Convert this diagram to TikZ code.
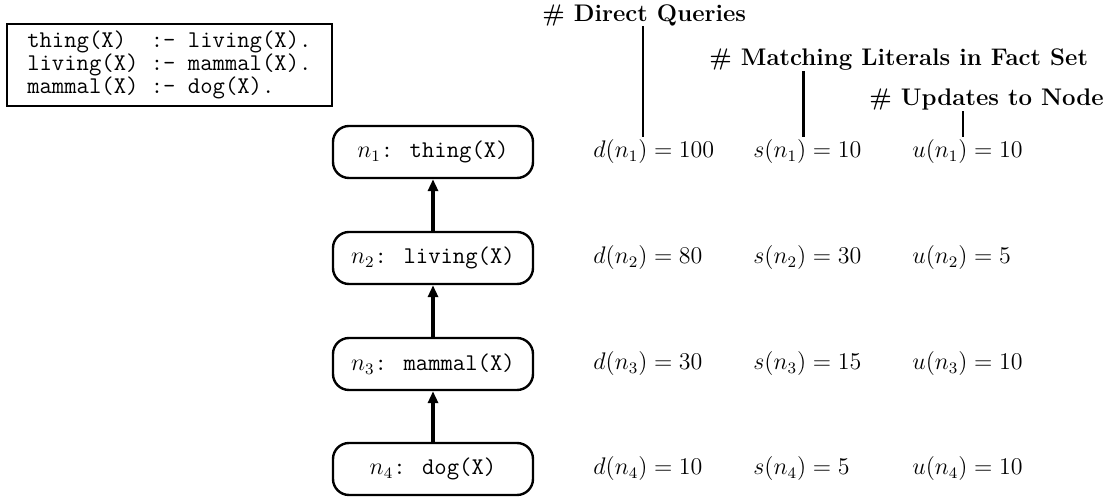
\documentclass[tikz,border=0pt]{standalone}
\usetikzlibrary{arrows.meta}
\begin{document}
\begin{tikzpicture}[x=0.5pt,y=-0.5pt,
  every node/.style={font=\fontsize{12}{14}\selectfont},
  nodebox/.style={draw,line width=1.2pt,rounded corners=8pt,minimum width=100pt,minimum height=26pt,inner sep=0pt},
  dep/.style={line width=2pt,-{Triangle[length=6pt,width=5pt]}},
  val/.style={anchor=west,inner sep=0pt},
  hdr/.style={anchor=west,inner sep=0pt,font=\fontsize{12}{14}\selectfont\bfseries},
  pointer/.style={line width=1pt},
  rulebox/.style={draw,line width=0.9pt,anchor=north west,align=left,inner xsep=0pt,inner ysep=3.5pt,minimum width=162.5pt,font=\fontsize{12}{11.5}\selectfont\ttfamily}
]
\useasboundingbox (0,0) rectangle (1116,501);

% rule box
\node[rulebox] (rules) at (6,23) {thing(X)\ \ :- living(X).\\living(X) :- mammal(X).\\mammal(X) :- dog(X).};

% dependency nodes
\node[nodebox] (n1) at (433,152) {$n_1$\texttt{: thing(X)}};
\node[nodebox] (n2) at (433,258) {$n_2$\texttt{: living(X)}};
\node[nodebox] (n3) at (433,364) {$n_3$\texttt{: mammal(X)}};
\node[nodebox] (n4) at (433,469) {$n_4$\texttt{: dog(X)}};
\draw[dep] (n2) -- (n1);
\draw[dep] (n3) -- (n2);
\draw[dep] (n4) -- (n3);

% values
\node[val] (d1) at (593,152) {$d(n_1) = 100$};
\node[val] (s1) at (753,152) {$s(n_1) = 10$};
\node[val] (u1) at (912,152) {$u(n_1) = 10$};
\node[val] (d2) at (593,258) {$d(n_2) = 80$};
\node[val] (s2) at (753,258) {$s(n_2) = 30$};
\node[val] (u2) at (912,258) {$u(n_2) = 5$};
\node[val] (d3) at (593,364) {$d(n_3) = 30$};
\node[val] (s3) at (753,364) {$s(n_3) = 15$};
\node[val] (u3) at (912,364) {$u(n_3) = 10$};
\node[val] (d4) at (593,469) {$d(n_4) = 10$};
\node[val] (s4) at (753,469) {$s(n_4) = 5$};
\node[val] (u4) at (912,469) {$u(n_4) = 10$};

% headers
\node[hdr] (hd) at (542,15) {\# Direct Queries};
\node[hdr] (hs) at (709,60) {\# Matching Literals in Fact Set};
\node[hdr] (hu) at (869,100) {\# Updates to Node};
\coordinate (pd) at (643,137);
\coordinate (ps) at (803,137);
\coordinate (pu) at (963,137);
\draw[pointer] (hd.south -| pd) -- (pd);
\draw[pointer,line width=1.5pt] (hs.south -| ps) -- (ps);
\draw[pointer] (hu.south -| pu) -- (pu);
\end{tikzpicture}
\end{document}
